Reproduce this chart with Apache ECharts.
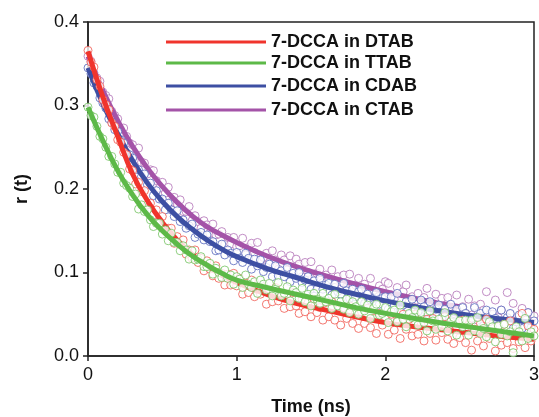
<!DOCTYPE html>
<html>
<head>
<meta charset="utf-8">
<script src="https://cdn.jsdelivr.net/npm/echarts@6/dist/echarts.min.js"></script>
<style>
html,body{margin:0;padding:0;background:#fff;}
#chart{width:539px;height:417px;}
</style>
</head>
<body>
<div id="chart"></div>
<script>
// ---- data ----
var seriesNames = ['7-DCCA in DTAB', '7-DCCA in TTAB', '7-DCCA in CDAB', '7-DCCA in CTAB'];
var xTicks = [0, 1, 2, 3];
var yTicks = [0.0, 0.1, 0.2, 0.3, 0.4];

// measured time points (ns)
var times = [0.00,0.02,0.04,0.06,0.08,0.10,0.12,0.14,0.16,0.18,0.20,0.22,0.24,0.26,0.28,0.30,0.32,0.34,0.36,0.38,
0.40,0.42,0.44,0.46,0.48,0.50,0.52,0.54,0.56,0.58,0.60,0.62,0.64,0.66,0.68,0.70,0.72,0.74,0.76,0.78,
0.80,0.82,0.84,0.86,0.88,0.90,0.92,0.94,0.96,0.98,1.00,1.02,1.04,1.06,1.08,1.10,1.12,1.14,1.16,1.18,
1.20,1.22,1.24,1.26,1.28,1.30,1.32,1.34,1.36,1.38,1.40,1.42,1.44,1.46,1.48,1.50,1.52,1.54,1.56,1.58,
1.60,1.62,1.64,1.66,1.68,1.70,1.72,1.74,1.76,1.78,1.80,1.82,1.84,1.86,1.88,1.90,1.92,1.94,1.96,1.98,
2.00,2.02,2.04,2.06,2.08,2.10,2.12,2.14,2.16,2.18,2.20,2.22,2.24,2.26,2.28,2.30,2.32,2.34,2.36,2.38,
2.40,2.42,2.44,2.46,2.48,2.50,2.52,2.54,2.56,2.58,2.60,2.62,2.64,2.66,2.68,2.70,2.72,2.74,2.76,2.78,
2.80,2.82,2.84,2.86,2.88,2.90,2.92,2.94,2.96,2.98,3.00];

// measured anisotropy r(t)
var dtabData = [0.366,0.352,0.346,0.331,0.323,0.307,0.301,0.295,0.279,0.275,0.259,0.256,0.244,0.241,0.224,0.222,0.206,0.208,0.197,0.198,
0.181,0.183,0.169,0.175,0.162,0.167,0.150,0.153,0.153,0.135,0.143,0.133,0.139,0.122,0.127,0.117,0.127,0.112,0.117,0.102,
0.114,0.104,0.096,0.108,0.093,0.099,0.085,0.098,0.085,0.099,0.084,0.093,0.074,0.087,0.076,0.091,0.071,0.082,0.074,0.083,
0.062,0.078,0.065,0.082,0.066,0.071,0.057,0.074,0.059,0.076,0.060,0.051,0.068,0.053,0.064,0.047,0.068,0.052,0.058,0.043,
0.064,0.047,0.065,0.043,0.055,0.037,0.058,0.045,0.060,0.039,0.052,0.033,0.053,0.039,0.057,0.034,0.045,0.027,0.051,0.037,
0.046,0.026,0.050,0.031,0.042,0.021,0.050,0.032,0.044,0.024,0.050,0.026,0.037,0.018,0.044,0.027,0.045,0.019,0.038,0.028,
0.047,0.020,0.038,0.015,0.034,0.022,0.043,0.016,0.037,0.007,0.032,0.018,0.039,0.012,0.044,0.021,0.033,0.006,0.035,0.013,
0.038,0.016,0.042,0.009,0.029,0.017,0.051,0.010,0.036,0.018,0.032];
var ttabData = [0.298,0.288,0.286,0.275,0.263,0.260,0.250,0.239,0.239,0.230,0.220,0.220,0.207,0.204,0.201,0.191,0.194,0.176,0.181,0.173,
0.175,0.163,0.155,0.159,0.159,0.146,0.151,0.138,0.147,0.136,0.136,0.126,0.132,0.127,0.116,0.126,0.115,0.116,0.119,0.107,
0.107,0.111,0.098,0.105,0.100,0.094,0.103,0.093,0.097,0.086,0.095,0.092,0.082,0.097,0.086,0.082,0.089,0.075,0.091,0.086,
0.079,0.087,0.072,0.080,0.088,0.072,0.075,0.083,0.066,0.079,0.076,0.069,0.081,0.065,0.074,0.060,0.075,0.068,0.063,0.075,
0.065,0.069,0.057,0.074,0.060,0.065,0.056,0.068,0.052,0.065,0.059,0.050,0.065,0.054,0.061,0.045,0.057,0.062,0.049,0.051,
0.058,0.040,0.053,0.055,0.041,0.061,0.044,0.035,0.051,0.046,0.055,0.037,0.052,0.040,0.030,0.054,0.042,0.032,0.044,0.035,
0.052,0.030,0.041,0.046,0.025,0.042,0.035,0.043,0.025,0.043,0.030,0.046,0.027,0.033,0.023,0.041,0.035,0.017,0.036,0.026,
0.038,0.024,0.029,0.004,0.035,0.029,0.018,0.045,0.021,0.029,0.024];
var cdabData = [0.345,0.338,0.327,0.323,0.309,0.303,0.297,0.284,0.280,0.271,0.269,0.259,0.255,0.243,0.241,0.237,0.224,0.223,0.215,0.218,
0.205,0.207,0.192,0.198,0.188,0.188,0.175,0.183,0.175,0.167,0.174,0.161,0.163,0.153,0.156,0.158,0.142,0.146,0.148,0.139,
0.145,0.137,0.137,0.126,0.127,0.134,0.121,0.127,0.123,0.114,0.124,0.117,0.112,0.123,0.117,0.104,0.116,0.108,0.115,0.101,
0.106,0.110,0.095,0.108,0.096,0.102,0.095,0.106,0.089,0.099,0.093,0.100,0.088,0.091,0.095,0.080,0.090,0.080,0.093,0.080,
0.085,0.087,0.073,0.086,0.077,0.074,0.087,0.078,0.069,0.080,0.071,0.077,0.080,0.063,0.074,0.067,0.069,0.076,0.062,0.069,
0.071,0.056,0.071,0.061,0.075,0.055,0.061,0.065,0.050,0.068,0.057,0.053,0.067,0.059,0.052,0.065,0.044,0.056,0.061,0.046,
0.056,0.050,0.062,0.041,0.056,0.043,0.058,0.051,0.040,0.045,0.058,0.047,0.051,0.036,0.055,0.041,0.053,0.045,0.037,0.055,
0.040,0.046,0.051,0.033,0.041,0.049,0.033,0.045,0.052,0.034,0.042];
var ctabData = [0.359,0.353,0.339,0.333,0.329,0.316,0.312,0.308,0.293,0.288,0.284,0.272,0.273,0.263,0.255,0.253,0.240,0.249,0.232,0.231,
0.218,0.223,0.222,0.210,0.201,0.208,0.195,0.202,0.184,0.190,0.182,0.187,0.173,0.173,0.179,0.162,0.168,0.161,0.153,0.162,
0.157,0.147,0.158,0.145,0.146,0.149,0.134,0.142,0.134,0.142,0.131,0.132,0.141,0.121,0.130,0.135,0.124,0.136,0.114,0.118,
0.123,0.112,0.126,0.115,0.104,0.121,0.115,0.103,0.120,0.103,0.116,0.110,0.095,0.112,0.100,0.113,0.093,0.099,0.104,0.088,
0.097,0.091,0.103,0.082,0.095,0.089,0.097,0.081,0.098,0.082,0.085,0.093,0.075,0.086,0.076,0.093,0.078,0.070,0.084,0.080,
0.089,0.087,0.073,0.068,0.082,0.060,0.077,0.085,0.065,0.071,0.058,0.075,0.060,0.070,0.081,0.053,0.063,0.074,0.059,0.069,
0.048,0.070,0.058,0.051,0.073,0.053,0.059,0.051,0.068,0.049,0.060,0.043,0.062,0.055,0.077,0.043,0.050,0.067,0.046,0.055,
0.042,0.076,0.050,0.063,0.042,0.047,0.057,0.036,0.052,0.042,0.048];

// fitted curves
var fitTimes = [0.0,0.1,0.2,0.3,0.4,0.5,0.6,0.7,0.8,0.9,1.0,1.2,1.4,1.6,1.8,2.0,2.2,2.4,2.6,2.8,3.0];
var dtabFit = [0.365,0.310,0.263,0.218,0.186,0.160,0.139,0.122,0.108,0.097,0.088,0.074,0.063,0.055,0.047,0.040,0.035,0.031,0.027,0.023,0.020];
var ttabFit = [0.298,0.258,0.222,0.193,0.169,0.150,0.134,0.120,0.109,0.099,0.091,0.082,0.074,0.066,0.058,0.051,0.045,0.039,0.034,0.029,0.024];
var cdabFit = [0.345,0.302,0.266,0.234,0.207,0.185,0.167,0.152,0.139,0.128,0.119,0.105,0.094,0.083,0.074,0.066,0.059,0.053,0.048,0.044,0.040];
var ctabFitTimes = [0.0,0.1,0.2,0.3,0.4,0.5,0.6,0.7,0.8,0.9,1.0,1.2,1.4,1.6,1.8,2.0,2.2,2.4,2.5];
var ctabFit = [0.359,0.318,0.282,0.251,0.225,0.203,0.184,0.168,0.155,0.145,0.136,0.120,0.107,0.096,0.086,0.077,0.069,0.062,0.059];

// ---- build ----
function pairs(xs, ys){ return xs.map(function(x,i){ return [x, ys[i]]; }); }
var lineColors = ['#f0342c', '#5db948', '#3d4fa3', '#a453a8'];
var dotColors  = ['#f0564e', '#74c362', '#5565bb', '#b271b7'];
var FONT = 'Liberation Sans, Arial, sans-serif';

function scatter(name, data, c, z){
  return {name: name, type: 'scatter', data: data, symbol: 'circle', symbolSize: 8, z: z,
    itemStyle: {color: '#ffffff', borderColor: c, borderWidth: 1}, silent: true, clip: true};
}
function fit(name, data, c, z){
  return {name: name, type: 'line', data: data, smooth: true, showSymbol: false, z: z, color: c,
    lineStyle: {color: c, width: 5}, itemStyle: {color: c}, silent: true, clip: true};
}

var legendTops = [33, 54, 77, 101];
var legends = seriesNames.map(function(n, i){
  return {data: [n], left: 166, top: legendTops[i], padding: 0, icon: 'rect',
    itemWidth: 100, itemHeight: 3, itemGap: 0, selectedMode: false,
    textStyle: {fontFamily: FONT, fontSize: 18, fontWeight: 'bold', color: '#111', lineHeight: 18, padding: [0,0,0,0]}};
});

var option = {
  animation: false,
  backgroundColor: '#fff',
  grid: {left: 88, right: 5, top: 22, bottom: 61, show: true, borderColor: '#222', borderWidth: 1.5,
    outerBoundsMode: 'none', containLabel: false},
  legend: legends,
  xAxis: {type: 'value', min: xTicks[0], max: xTicks[xTicks.length-1], interval: 1,
    name: 'Time (ns)', nameLocation: 'middle', nameGap: 42,
    nameTextStyle: {fontFamily: FONT, fontSize: 18, fontWeight: 'bold', color: '#111'},
    axisLine: {lineStyle: {color: '#222', width: 1.5}},
    axisTick: {inside: false, length: 5, lineStyle: {color: '#222', width: 1.5}},
    axisLabel: {fontFamily: FONT, fontSize: 18, color: '#111', margin: 10},
    splitLine: {show: false}},
  yAxis: {type: 'value', min: yTicks[0], max: yTicks[yTicks.length-1], interval: 0.1,
    name: 'r (t)', nameLocation: 'middle', nameGap: 57, nameRotate: 90,
    nameTextStyle: {fontFamily: FONT, fontSize: 18, fontWeight: 'bold', color: '#111'},
    axisLine: {lineStyle: {color: '#222', width: 1.5}},
    axisTick: {inside: false, length: 5, lineStyle: {color: '#222', width: 1.5}},
    axisLabel: {fontFamily: FONT, fontSize: 18, color: '#111', margin: 9,
      formatter: function(v){ return v.toFixed(1); }},
    splitLine: {show: false}},
  series: [
    scatter('CTAB data', pairs(times, ctabData), dotColors[3], 1),
    fit(seriesNames[3], pairs(ctabFitTimes, ctabFit), lineColors[3], 2),
    scatter('CDAB data', pairs(times, cdabData), dotColors[2], 3),
    fit(seriesNames[2], pairs(fitTimes, cdabFit), lineColors[2], 4),
    scatter('DTAB data', pairs(times, dtabData), dotColors[0], 5),
    fit(seriesNames[0], pairs(fitTimes, dtabFit), lineColors[0], 6),
    scatter('TTAB data', pairs(times, ttabData), dotColors[1], 7),
    fit(seriesNames[1], pairs(fitTimes, ttabFit), lineColors[1], 8)
  ]
};
var chart = echarts.init(document.getElementById('chart'), null, {renderer: 'canvas'});
chart.setOption(option);
</script>
</body>
</html>
